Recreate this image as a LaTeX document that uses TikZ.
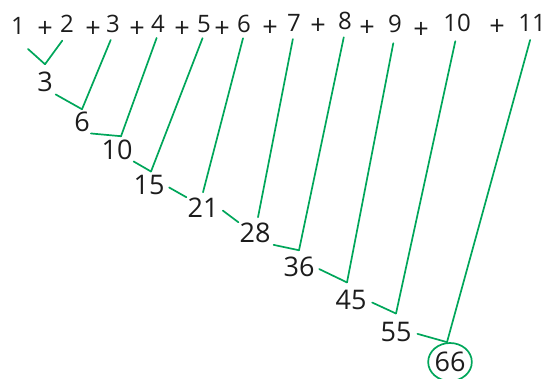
\documentclass[tikz,border=0pt]{standalone}
\usepackage{fontspec}
\setmainfont{Open Sans}
\usepackage{tikz}
\usetikzlibrary{positioning, shapes.geometric}
\definecolor{pen}{RGB}{0,166,90}
\definecolor{ink}{RGB}{28,28,28}

\begin{document}
\begin{tikzpicture}[
    x=1pt, y=1pt,
    term/.style={anchor=base, inner sep=1pt, text=ink, font=\fontsize{24}{24}\selectfont},
    plus/.style={term, font=\fontsize{27}{27}\selectfont},
    sum/.style={anchor=base, inner sep=1pt, text=ink, font=\fontsize{27}{27}\selectfont},
    link/.style={draw=pen, line width=1.7pt, line cap=round, line join=round},
    drop/.style={link, shorten <=6pt},
]
  \clip (0,0) rectangle (553,379);

  \node[term] (t1)  at (18,344)  {1};
  \node[plus] (pl1) at (45,341)  {+};
  \node[term] (t2)  at (67,346)  {2};
  \node[plus] (pl2) at (93,341)  {+};
  \node[term] (t3)  at (113,346) {3};
  \node[plus] (pl3) at (137,341) {+};
  \node[term] (t4)  at (158,346) {4};
  \node[plus] (pl4) at (182,341) {+};
  \node[term] (t5)  at (204,346) {5};
  \node[plus] (pl5) at (222,341) {+};
  \node[term] (t6)  at (244,346) {6};
  \node[plus] (pl6) at (270,342) {+};
  \node[term] (t7)  at (294,347) {7};
  \node[plus] (pl7) at (318,344) {+};
  \node[term] (t8)  at (345,349) {8};
  \node[plus] (pl8) at (367,342) {+};
  \node[term] (t9)  at (395,346) {9};
  \node[plus] (pl9) at (421,340) {+};
  \node[term] (t10) at (457,347) {10};
  \node[plus] (pl10) at (497,343) {+};
  \node[term] (t11) at (532,347) {11};

  \node[sum] (s3)  at (45,287)  {3};
  \node[sum] (s6)  at (82,247)  {6};
  \node[sum] (s10) at (117,219) {10};
  \node[sum] (s15) at (149,184) {15};
  \node[sum] (s21) at (203,161) {21};
  \node[sum] (s28) at (255,136) {28};
  \node[sum] (s36) at (299,102) {36};
  \node[sum] (s45) at (351,69)  {45};
  \node[sum] (s55) at (396,37)  {55};
  \node[sum, anchor=center, shape=ellipse, draw=pen, line width=1.7pt,
        minimum width=42pt, minimum height=38pt, inner sep=0pt] (s66) at (450,17) {66};

  \coordinate[above=7pt of s3] (j3);
  \coordinate[above=2pt of s6] (j6);
  \coordinate[above=3pt of s10, xshift=4pt] (j10);
  \coordinate[above=3pt of s15, xshift=2pt] (j15);
  \coordinate[above=5pt of s21] (j21);
  \coordinate[above=5pt of s28, xshift=3pt] (j28);
  \coordinate[above=6pt of s36] (j36);
  \coordinate[above=7pt of s45, xshift=-4pt] (j45);
  \coordinate[above=8pt of s55] (j55);

  \draw[link] ([shift={(10pt,-14pt)}]t1.base) -- (j3);
  \draw[drop, shorten <=8pt] (t2.south) -- (j3);

  \draw[link, shorten <=2pt] (s3.south east) -- (j6);
  \draw[drop] (t3.south) -- (j6);

  \draw[link] (s6.south east) -- (j10);
  \draw[drop, shorten <=4pt] (t4.south) -- (j10);

  \draw[link] (s10.south east) -- (j15);
  \draw[drop, shorten <=4pt] (t5.south) -- (j15);

  \draw[link, shorten <=4pt] (s15.east) -- (s21.north west);
  \draw[drop, shorten <=4pt] (t6.south) -- (j21);

  \draw[link, shorten <=4pt] (s21.east) -- (s28.north west);
  \draw[drop] (t7.south) -- (j28);

  \draw[link, shorten <=2pt] (s28.south east) -- (j36);
  \draw[drop] (t8.south) -- (j36);

  \draw[link, shorten <=4pt] (s36.east) -- (j45);
  \draw[drop, shorten <=9pt] (t9.south) -- (j45);

  \draw[link, shorten <=5pt] (s45.east) -- (j55);
  \draw[drop, shorten <=8pt] (t10.south) -- (j55);

  \draw[link, shorten <=5pt] (s55.east) -- ([xshift=-3pt]s66.north);
  \draw[drop, shorten <=7pt] (t11.south) -- ([xshift=-3pt]s66.north);
\end{tikzpicture}
\end{document}
